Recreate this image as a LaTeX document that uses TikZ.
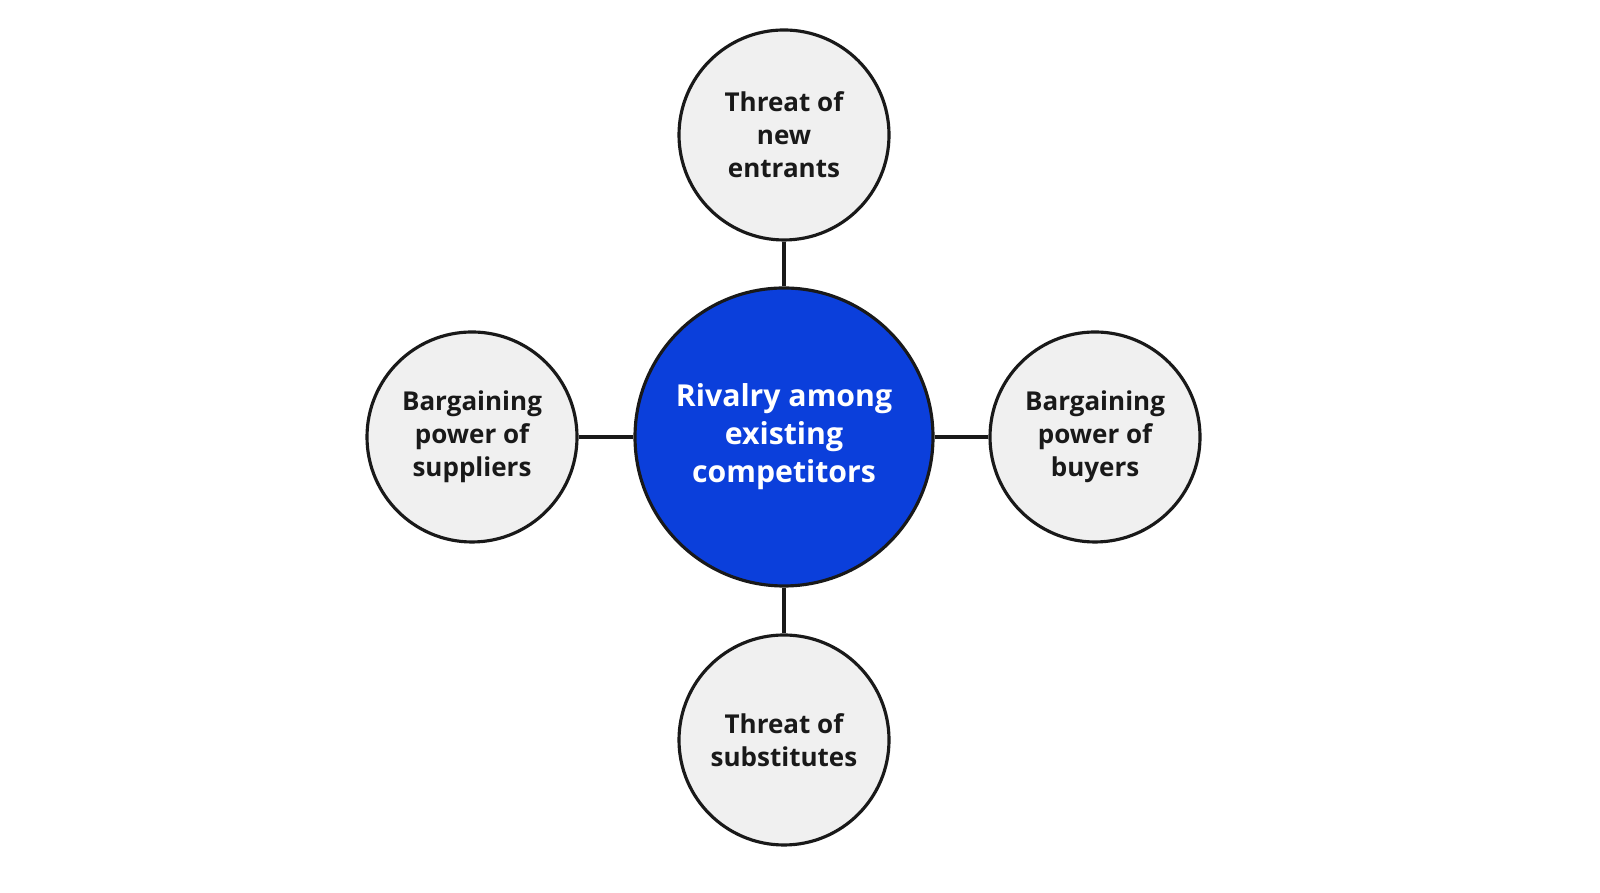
\documentclass[tikz,border=0pt]{standalone}
\usepackage{fontspec}
\setmainfont{Open Sans}
\usetikzlibrary{positioning}
\definecolor{rivalblue}{HTML}{0B3FDB}
\definecolor{forcegray}{HTML}{F0F0F0}
\tikzset{
  force/.style={circle, draw=black!90, line width=0.9pt, fill=forcegray, minimum size=2.1cm,
    align=center, font=\bfseries\fontsize{7.4}{9.4}\selectfont, text=black!90},
  rival/.style={circle, draw=black!90, line width=0.9pt, fill=rivalblue, minimum size=2.98cm,
    align=center, font=\bfseries\fontsize{8.6}{10.8}\selectfont, text=white},
  link/.style={line width=0.9pt, black!90}
}
\begin{document}
\begin{tikzpicture}

\useasboundingbox (0,0) rectangle (16,8.93);

\node[rival] (rivalry) at (7.84,4.56) {Rivalry among\\existing\\competitors};
\node[force] (entrants) at (7.84,7.58) {Threat of\\new\\entrants};
\node[force] (substitutes) at (7.84,1.53) {Threat of\\substitutes};
\node[force] (suppliers) at (4.72,4.56) {Bargaining\\power of\\suppliers};
\node[force] (buyers) at (10.95,4.56) {Bargaining\\power of\\buyers};

\draw[link] (rivalry) -- (entrants);
\draw[link] (rivalry) -- (substitutes);
\draw[link] (rivalry) -- (suppliers);
\draw[link] (rivalry) -- (buyers);

\end{tikzpicture}
\end{document}
